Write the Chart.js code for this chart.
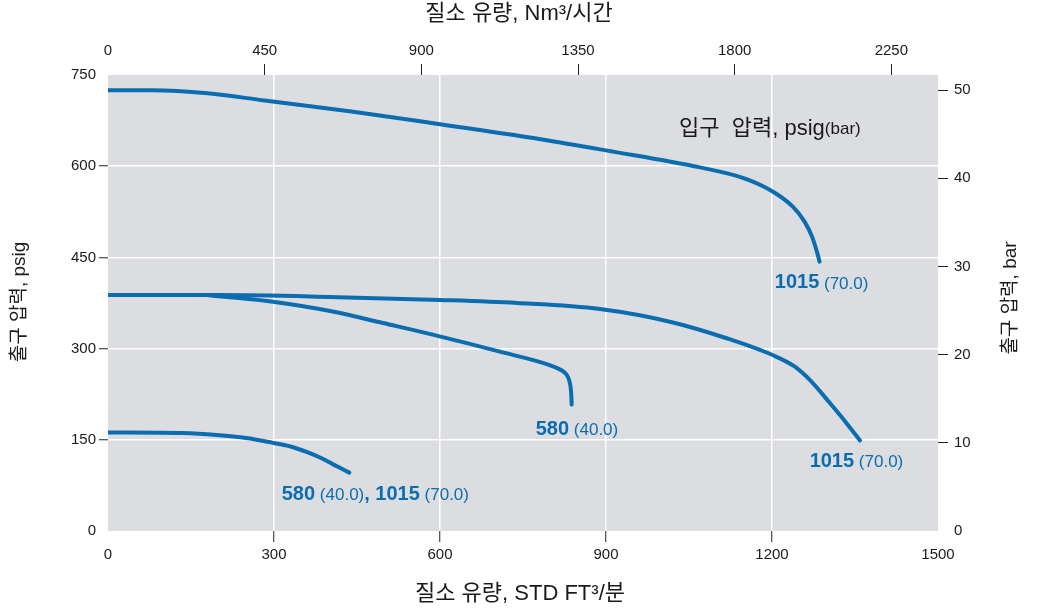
<!DOCTYPE html>
<html>
<head>
<meta charset="utf-8">
<script src="https://cdn.jsdelivr.net/npm/chart.js@4.4.1/dist/chart.umd.min.js"></script>
<style>
html, body { margin: 0; padding: 0; background: #fff; }
</style>
</head>
<body>
<canvas id="chart" width="1037" height="612"></canvas>
<script>
'use strict';

// 질소 유량 (STD FT3/분) / 출구 압력 (psig) - 입구 1015 psig, 상단 곡선
var flowA = [0, 80, 180, 283, 440, 600, 798, 900, 1070, 1150, 1202, 1238, 1258, 1272, 1281, 1286];
var outA  = [725, 725, 720, 708, 690, 669, 642, 626, 598, 580, 558, 533, 510, 485, 460, 443];

// 입구 1015 psig, 중간 곡선
var flowB = [0, 200, 400, 600, 739, 889, 1021, 1118, 1202, 1240, 1270, 1305, 1335, 1359];
var outB  = [388, 388, 385, 380, 375, 365, 343, 317, 289, 271, 247, 210, 177, 149];

// 입구 580 psig
var flowC = [178, 226, 298, 406, 497, 587, 708, 798, 816, 828, 834, 837, 838];
var outC  = [388, 384, 377, 361, 342, 323, 295, 273, 266, 258, 246, 228, 208];

// 입구 580 / 1015 psig, 하단 곡선
var flowD = [0, 135, 196, 250, 298, 330, 359, 385, 406, 436];
var outD  = [162, 161, 158, 153, 145, 139, 130, 120, 110, 96];

// 축 눈금
var scfmTicks = [0, 300, 600, 900, 1200, 1500];
var psigTicks = [0, 150, 300, 450, 600, 750];
var nm3Ticks = [0, 450, 900, 1350, 1800, 2250];
var barTicks = [0, 10, 20, 30, 40, 50];

// 축 범위 (환산)
var scfmMax = 1500;
var psigMax = 750;
var nm3Max = scfmMax * 1.5893;
var barMax = psigMax / 14.5038;

// 곡선 라벨 [글자, 굵게]
var curveLabels = [
	[['1015', true], [' (70.0)', false]],
	[['580', true], [' (40.0)', false]],
	[['1015', true], [' (70.0)', false]],
	[['580', true], [' (40.0)', false], [', 1015', true], [' (70.0)', false]]
];
// 라벨 위치 (scfm, psig)
var labelAnchors = [[1205, 408], [773, 167], [1268, 114], [314, 60]];

var BLUE = '#0a6db0';
var FONT = "'Liberation Sans', Arial, 'Noto Sans CJK KR', sans-serif";

function toXY(xs, ys) {
	var pts = [];
	for (var i = 0; i < xs.length; i++) pts.push({x: xs[i], y: ys[i]});
	return pts;
}

function lineSet(xs, ys) {
	return {
		data: toXY(xs, ys),
		borderColor: BLUE,
		borderWidth: 4,
		pointRadius: 0,
		fill: false,
		cubicInterpolationMode: 'monotone',
		borderCapStyle: 'round',
		borderJoinStyle: 'round',
		xAxisID: 'x',
		yAxisID: 'y'
	};
}

// 틱 표시: 양 끝은 숨김
function innerOnly(color, lo, hi) {
	return function(ctx) {
		if (!ctx.tick) return color;
		var v = ctx.tick.value;
		return (v <= lo + 1e-6 || v >= hi - 1e-6) ? 'rgba(0,0,0,0)' : color;
	};
}

function fixedTicks(list) {
	return function(scale) {
		scale.ticks = list.map(function(v) { return {value: v}; });
	};
}

function plain(v) { return String(v); }

var bgPlugin = {
	id: 'plotBg',
	beforeDraw: function(chart) {
		var a = chart.chartArea, c = chart.ctx;
		c.save();
		c.fillStyle = '#dcdde0';
		c.fillRect(a.left, a.top, a.right - a.left, a.bottom - a.top);
		c.restore();
	}
};

var textPlugin = {
	id: 'texts',
	afterDraw: function(chart) {
		var c = chart.ctx;
		var sx = chart.scales.x, sy = chart.scales.y;
		c.save();
		c.textBaseline = 'middle';
		c.fillStyle = '#1a1a1a';
		c.font = '22px ' + FONT;
		c.textAlign = 'center';
		c.fillText('질소 유량, Nm³/시간', 519, 14);
		c.fillText('질소 유량, STD FT³/분', 520, 594);

		c.font = '19px ' + FONT;
		c.save();
		c.translate(20, 302);
		c.rotate(-Math.PI / 2);
		c.fillText('출구 압력, psig', 0, 0);
		c.restore();
		c.save();
		c.translate(1011, 298);
		c.rotate(-Math.PI / 2);
		c.fillText('출구 압력, bar', 0, 0);
		c.restore();

		// 입구 압력 설명
		c.textAlign = 'left';
		var ix = sx.getPixelForValue(1032), iy = sy.getPixelForValue(662);
		c.font = '22px ' + FONT;
		c.fillText('입구  압력, psig', ix, iy);
		var w = c.measureText('입구  압력, psig').width;
		c.font = '17px ' + FONT;
		c.fillText('(bar)', ix + w, iy + 1);

		// 곡선 라벨
		c.fillStyle = BLUE;
		for (var i = 0; i < curveLabels.length; i++) {
			var px = sx.getPixelForValue(labelAnchors[i][0]);
			var py = sy.getPixelForValue(labelAnchors[i][1]);
			var parts = curveLabels[i];
			for (var j = 0; j < parts.length; j++) {
				c.font = parts[j][1] ? 'bold 20px ' + FONT : '17px ' + FONT;
				c.fillText(parts[j][0], px, py + (parts[j][1] ? 0 : 1));
				px += c.measureText(parts[j][0]).width;
			}
		}
		c.restore();
	}
};

var tickFont = {family: FONT, size: 15};
var tickCol = '#1a1a1a';

new Chart(document.getElementById('chart'), {
	type: 'line',
	data: {
		datasets: [lineSet(flowA, outA), lineSet(flowB, outB), lineSet(flowC, outC), lineSet(flowD, outD)]
	},
	options: {
		responsive: false,
		animation: false,
		layout: {padding: 0},
		plugins: {legend: {display: false}, tooltip: {enabled: false}},
		scales: {
			x: {
				type: 'linear', position: 'bottom', min: 0, max: scfmMax,
				afterBuildTicks: fixedTicks(scfmTicks),
				ticks: {color: tickCol, font: tickFont, padding: 4, maxRotation: 0, autoSkip: false, callback: plain},
				grid: {color: innerOnly('#ffffff', 0, scfmMax), lineWidth: 1.5, tickLength: 11,
					tickColor: innerOnly('#222', 0, scfmMax), tickWidth: 1},
				border: {display: false},
				afterFit: function(s) { s.height = 81; }
			},
			x2: {
				type: 'linear', position: 'top', min: 0, max: nm3Max,
				afterBuildTicks: fixedTicks(nm3Ticks),
				ticks: {color: tickCol, font: tickFont, padding: 4, maxRotation: 0, autoSkip: false, callback: plain},
				grid: {drawOnChartArea: false, tickLength: 11, tickColor: innerOnly('#222', 0, 1e9), tickWidth: 1},
				border: {display: false},
				afterFit: function(s) { s.height = 75; }
			},
			y: {
				type: 'linear', position: 'left', min: 0, max: psigMax,
				afterBuildTicks: fixedTicks(psigTicks),
				ticks: {color: tickCol, font: tickFont, padding: 3, autoSkip: false, callback: plain},
				grid: {color: innerOnly('#ffffff', 0, psigMax), lineWidth: 1.5, tickLength: 9,
					tickColor: innerOnly('#222', 0, psigMax), tickWidth: 1},
				border: {display: false},
				afterFit: function(s) { s.width = 108; }
			},
			y2: {
				type: 'linear', position: 'right', min: 0, max: barMax,
				afterBuildTicks: fixedTicks(barTicks),
				ticks: {color: tickCol, font: tickFont, padding: 6, autoSkip: false, callback: plain},
				grid: {drawOnChartArea: false, tickLength: 10, tickColor: innerOnly('#222', 0, 1e9), tickWidth: 1},
				border: {display: false},
				afterFit: function(s) { s.width = 99; }
			}
		}
	},
	plugins: [bgPlugin, textPlugin]
});
</script>
</body>
</html>
